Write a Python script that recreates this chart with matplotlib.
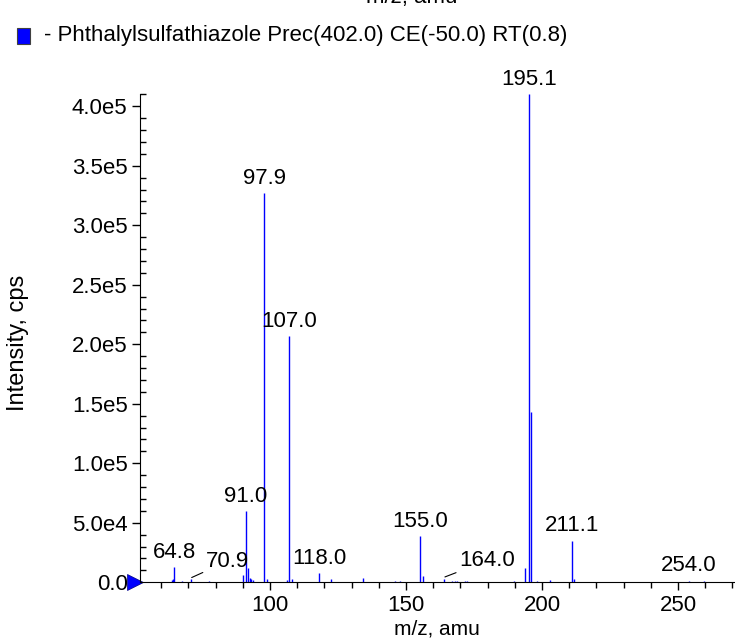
import matplotlib
matplotlib.use('Agg')
import matplotlib.pyplot as plt
import matplotlib.transforms as mtransforms
from matplotlib.patches import Rectangle
from matplotlib.ticker import MultipleLocator, FuncFormatter

plt.rcParams['font.family'] = ['Liberation Sans', 'DejaVu Sans']

# peak list (m/z, intensity in cps)
mz = [63.9, 64.5, 64.8, 67.8, 70.9, 77.4, 90.2, 91.0, 91.9, 92.6, 93.1, 93.7,
      97.9, 98.9, 106.4, 107.0, 108.0, 118.0, 122.3, 134.2, 146.0, 147.9,
      155.0, 156.1, 164.0, 167.0, 168.0, 168.8, 171.8, 172.4, 189.8, 193.7,
      195.1, 196.1, 198.0, 202.8, 211.1, 211.9, 254.0, 259.5]
intensity = [2.0e3, 3.0e3, 1.3e4, 1.0e3, 2.5e3, 1.0e3, 6.0e3, 6.0e4, 1.2e4, 4.0e3, 2.5e3, 2.0e3,
             3.27e5, 3.0e3, 2.0e3, 2.07e5, 2.5e3, 7.8e3, 3.0e3, 4.0e3, 1.5e3, 1.0e3,
             3.9e4, 5.0e3, 3.0e3, 1.0e3, 1.0e3, 1.0e3, 1.0e3, 1.0e3, 1.0e3, 1.2e4,
             4.1e5, 1.43e5, 1.5e3, 2.0e3, 3.5e4, 3.0e3, 1.5e3, 1.5e3]

labels = ['64.8', '70.9', '91.0', '97.9', '107.0', '118.0', '155.0', '164.0', '195.1', '211.1', '254.0']

legend_text = '- Phthalylsulfathiazole Prec(402.0) CE(-50.0) RT(0.8)'

fs = 16

fig = plt.figure(figsize=(7.35, 6.42), dpi=100)
ax = fig.add_axes([0.1905, 0.093, 0.809, 0.76])

ax.vlines(mz, 0, intensity, color='#0000ff', linewidth=1)

ax.set_xlim(52.2, 270.8)
ax.set_ylim(0, 4.1e5)

for s in ['top', 'right']:
    ax.spines[s].set_visible(False)

ax.xaxis.set_major_locator(MultipleLocator(50))
ax.xaxis.set_minor_locator(MultipleLocator(10))
ax.yaxis.set_major_locator(MultipleLocator(5e4))
ax.yaxis.set_minor_locator(MultipleLocator(1e4))


def yfmt(v, pos):
    if v == 0:
        return '0.0'
    s = '{:.1e}'.format(v)
    m, e = s.split('e')
    return m + 'e' + str(int(e))


ax.yaxis.set_major_formatter(FuncFormatter(yfmt))
ax.tick_params(axis='both', which='major', labelsize=fs, length=6, width=1, pad=3)
ax.tick_params(axis='both', which='minor', length=4, width=1)
ax.tick_params(axis='y', which='minor', direction='in')

ax.set_xlabel('m/z, amu', fontsize=15, labelpad=3)
ax.set_ylabel('Intensity, cps', fontsize=17)
ax.yaxis.set_label_coords(-0.187, 0.49)

# peak labels
for lab in labels:
    v = float(lab)
    i = mz.index(v)
    h = intensity[i]
    if lab in ('70.9', '164.0'):
        ax.annotate(lab, xy=(v + 0.3, h + 1500), xytext=(10, 4), textcoords='offset points',
                    ha='left', va='bottom', fontsize=fs,
                    arrowprops=dict(arrowstyle='-', color='black', lw=0.8, shrinkA=0, shrinkB=0))
    else:
        ax.annotate(lab, xy=(v, h), xytext=(0, 3), textcoords='offset points',
                    ha='center', va='bottom', fontsize=fs)

# blue marker on the baseline at the y axis
mk_tr = mtransforms.offset_copy(ax.transData, fig=fig, x=-3.5, y=0, units='points')
ax.plot([52.2], [0], marker='>', color='#0000ff', markersize=12, clip_on=False,
        markeredgecolor='#000080', markeredgewidth=0.5, transform=mk_tr)

# legend
fig.patches.append(Rectangle((17 / 735, 1 - 44 / 642), 13 / 735, 16 / 642,
                             transform=fig.transFigure, facecolor='#0000ff',
                             edgecolor='#404040', linewidth=0.8))
fig.text(44 / 735, 1 - 36 / 642, legend_text, fontsize=fs, va='center', ha='left')

# x label of the panel above, cut by the top edge
fig.text(412 / 735, 1 - 3 / 642, 'm/z, amu', fontsize=fs, ha='center', va='baseline')

fig.savefig('out.png', dpi=100)
